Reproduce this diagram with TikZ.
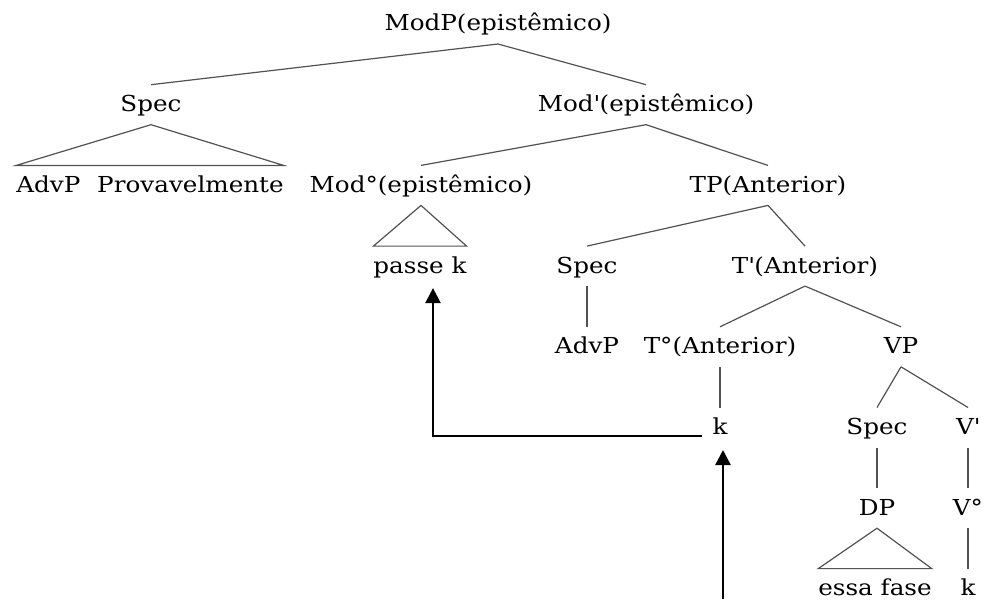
\documentclass[tikz,border=0pt]{standalone}
\usepackage{fontspec}
\setmainfont{DejaVu Serif}[FakeStretch=1.12]
\usetikzlibrary{arrows.meta}

\tikzset{
  lbl/.style={anchor=base, inner sep=0pt, outer sep=0pt, text=black,
              font=\fontsize{22}{26}\selectfont},
  branch/.style={draw=black!68, line width=1.2pt},
  move/.style={draw=black, line width=2.4pt,
               -{Triangle[length=15pt,width=15pt]}},
}
% parent-to-child branch and parent-to-leaf triangle
\newcommand\treebranch[2]{\draw[branch] ([yshift=-13pt]#1.base) -- ([yshift=27pt]#2.base);}
\newcommand\treeroof[2]{\draw[branch] ([yshift=-13pt]#1.base) -- ([yshift=27pt]#2.base west)
   -- ([yshift=27pt]#2.base east) -- cycle;}
% straight prime mark
\newcommand\barmark{\textquotesingle}

\begin{document}
\begin{tikzpicture}[x=1pt, y=-1pt]
\useasboundingbox (0,0) rectangle (984,599);

% rows
\node[lbl] (modp)   at (498, 31)   {ModP(epistêmico)};
\node[lbl] (spec1)  at (151, 111.7) {Spec};
\node[lbl] (modbar) at (646, 111.7) {Mod\barmark(epistêmico)};
\node[lbl] (advprov) at (150, 192.4) {AdvP\hspace{9pt} Provavelmente};
\node[lbl] (modzero) at (421, 192.4) {Mod°(epistêmico)};
\node[lbl] (tp)     at (768, 192.4) {TP(Anterior)};
\node[lbl] (passek) at (420, 273.1) {passe k};
\node[lbl] (spec2)  at (587, 273.1) {Spec};
\node[lbl] (tbar)   at (805, 273.1) {T\barmark(Anterior)};
\node[lbl] (advp)   at (587, 353.8) {AdvP};
\node[lbl] (tzero)  at (720, 353.8) {T°(Anterior)};
\node[lbl] (vp)     at (901, 353.8) {VP};
\node[lbl] (kT)     at (720, 434.5) {k};
\node[lbl] (spec3)  at (877, 434.5) {Spec};
\node[lbl] (vbar)   at (968, 434.5) {V\barmark};
\node[lbl] (dp)     at (877, 515.2) {DP};
\node[lbl] (vzero)  at (968, 515.2) {V°};
\node[lbl] (essa)   at (875, 595.6) {essa fase};
\node[lbl] (kV)     at (968, 595.6) {k};

% branches
\treebranch{modp}{spec1}
\treebranch{modp}{modbar}
\treeroof{spec1}{advprov}
\treebranch{modbar}{modzero}
\treebranch{modbar}{tp}
\treeroof{modzero}{passek}
\treebranch{tp}{spec2}
\treebranch{tp}{tbar}
\treebranch{spec2}{advp}
\treebranch{tbar}{tzero}
\treebranch{tbar}{vp}
\treebranch{tzero}{kT}
\treebranch{vp}{spec3}
\treebranch{vp}{vbar}
\treebranch{spec3}{dp}
\treebranch{vbar}{vzero}
\treeroof{dp}{essa}
\treebranch{vzero}{kV}

% head movement arrows
\coordinate (mvStart) at ([xshift=-18pt,yshift=-1.5pt]kT.base);
\coordinate (mvEnd)   at ([xshift=13pt,yshift=-15pt]passek.base);
\draw[move] (mvStart) -| (mvEnd);
\coordinate (upStart) at (723,599);
\coordinate (upEnd)   at ([xshift=3pt,yshift=-15.5pt]kT.base);
\draw[move] (upStart) -- (upEnd);
\end{tikzpicture}
\end{document}
